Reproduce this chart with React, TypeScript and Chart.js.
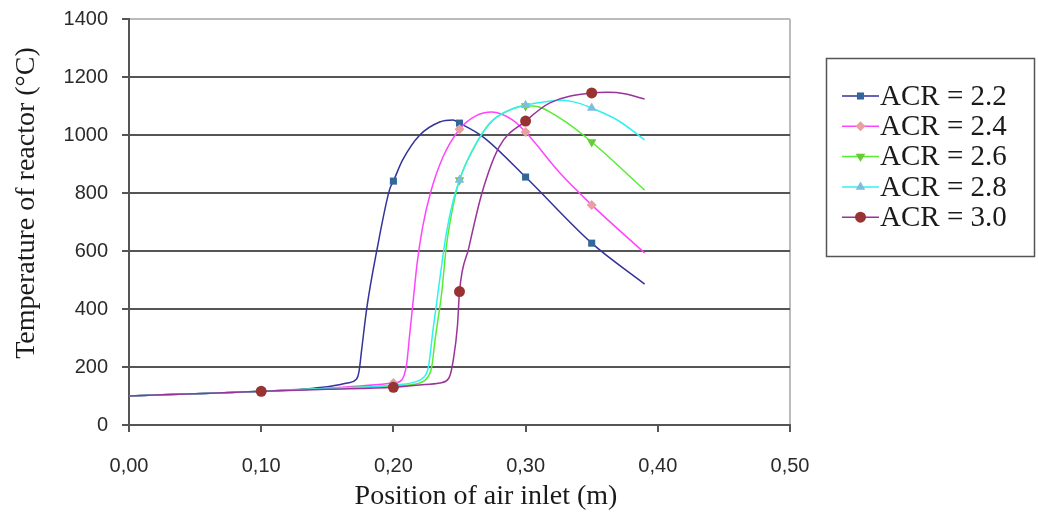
import React, { useEffect, useRef } from 'react';
import { Chart, registerables } from 'chart.js';

Chart.register(...registerables);

// ---- data ----
const seriesLabels = ['ACR = 2.2', 'ACR = 2.4', 'ACR = 2.6', 'ACR = 2.8', 'ACR = 3.0'];

const pos22 = [0, 0.05, 0.10, 0.15, 0.165, 0.172, 0.174, 0.176, 0.18, 0.1875, 0.197, 0.20, 0.207, 0.22, 0.235, 0.245, 0.25, 0.268, 0.30, 0.35, 0.39];
const temp22 = [100, 108, 116, 132, 145, 158, 185, 260, 407, 603, 810, 841, 914, 1000, 1045, 1052, 1041, 993, 855, 627, 486];

const pos24 = [0, 0.05, 0.10, 0.15, 0.20, 0.205, 0.208, 0.21, 0.2125, 0.215, 0.218, 0.222, 0.228, 0.2375, 0.25, 0.262, 0.2745, 0.29, 0.30, 0.326, 0.35, 0.39];
const temp24 = [100, 108, 116, 127, 145, 150, 170, 210, 320, 430, 560, 680, 800, 924, 1020, 1065, 1079, 1052, 1010, 869, 759, 593];

const pos26 = [0, 0.05, 0.10, 0.15, 0.20, 0.22, 0.226, 0.229, 0.2315, 0.2365, 0.24, 0.245, 0.25, 0.26, 0.273, 0.288, 0.30, 0.306, 0.326, 0.35, 0.39];
const temp26 = [100, 108, 116, 126, 135, 145, 165, 200, 293, 455, 614, 752, 845, 948, 1041, 1086, 1100, 1100, 1058, 976, 810];

const pos28 = [0, 0.05, 0.10, 0.15, 0.20, 0.22, 0.224, 0.2265, 0.23, 0.235, 0.24, 0.245, 0.25, 0.26, 0.275, 0.29, 0.30, 0.315, 0.328, 0.34, 0.35, 0.37, 0.39];
const temp28 = [100, 108, 116, 126, 138, 155, 170, 200, 330, 500, 660, 770, 845, 950, 1050, 1090, 1103, 1115, 1120, 1110, 1093, 1050, 983];

const pos30 = [0, 0.05, 0.10, 0.15, 0.20, 0.22, 0.235, 0.242, 0.2455, 0.2485, 0.25, 0.257, 0.267, 0.28, 0.30, 0.318, 0.35, 0.362, 0.375, 0.39];
const temp30 = [100, 108, 116, 123, 130, 138, 145, 162, 230, 345, 460, 610, 800, 959, 1048, 1110, 1145, 1147, 1142, 1124];

const markerPositions = [0.10, 0.20, 0.25, 0.30, 0.35];
const yTickValues = [0, 200, 400, 600, 800, 1000, 1200, 1400];
const yTickLabels = ['0', '200', '400', '600', '800', '1000', '1200', '1400'];
const xTickLabels = ['0,00', '0,10', '0,20', '0,30', '0,40', '0,50'];

const xTitle = 'Position of air inlet (m)';
const yTitle = 'Temperature of reactor (°C)';

// ---- styles ----
const lineColors = ['#333399', '#FF44FF', '#55EE33', '#33F0F0', '#993399'];
const markerColors = ['#336699', '#E8A0A0', '#66CC33', '#80BDDD', '#993333'];
const markerStyles = ['rect', 'rectRot', 'triangle', 'triangle', 'circle'];
const markerRotations = [0, 0, 180, 0, 0];
const markerRadii = [5, 5, 5.5, 5.5, 5.5];

const allPos = [pos22, pos24, pos26, pos28, pos30];
const allTemp = [temp22, temp24, temp26, temp28, temp30];

const isMarker = (x: number) => markerPositions.some((m) => Math.abs(m - x) < 1e-9);

function drawMarker(ctx: CanvasRenderingContext2D, i: number, x: number, y: number) {
  ctx.save();
  ctx.fillStyle = markerColors[i];
  ctx.beginPath();
  const r = markerRadii[i];
  if (i === 0) {
    const s = Math.SQRT1_2 * r;
    ctx.rect(x - s, y - s, 2 * s, 2 * s);
  } else if (i === 1) {
    ctx.moveTo(x, y - r);
    ctx.lineTo(x + r, y);
    ctx.lineTo(x, y + r);
    ctx.lineTo(x - r, y);
    ctx.closePath();
  } else if (i === 2 || i === 3) {
    const dir = i === 2 ? -1 : 1;
    ctx.moveTo(x, y - dir * r);
    ctx.lineTo(x + r * 0.866, y + dir * r * 0.5);
    ctx.lineTo(x - r * 0.866, y + dir * r * 0.5);
    ctx.closePath();
  } else {
    ctx.arc(x, y, r, 0, Math.PI * 2);
  }
  ctx.fill();
  ctx.restore();
}

const decorPlugin = {
  id: 'decor',
  afterDraw(chart: any) {
    const ctx: CanvasRenderingContext2D = chart.ctx;
    ctx.save();
    // axis titles
    ctx.fillStyle = '#1a1a1a';
    ctx.font = '28px "Liberation Serif", "Times New Roman", serif';
    ctx.textAlign = 'center';
    ctx.textBaseline = 'middle';
    ctx.fillText(xTitle, 486, 497);
    ctx.save();
    ctx.translate(27, 203);
    ctx.rotate(-Math.PI / 2);
    ctx.fillText(yTitle, 0, 0);
    ctx.restore();

    // legend
    const bx = 826, by = 58, bw = 208, bh = 198;
    ctx.strokeStyle = '#555';
    ctx.lineWidth = 1.5;
    ctx.strokeRect(bx + 0.5, by + 0.5, bw, bh);
    ctx.font = '29px "Liberation Serif", "Times New Roman", serif';
    ctx.textAlign = 'left';
    ctx.textBaseline = 'middle';
    seriesLabels.forEach((lab, i) => {
      const cy = 96 + i * 30.3;
      ctx.strokeStyle = lineColors[i];
      ctx.lineWidth = 1.5;
      ctx.beginPath();
      ctx.moveTo(842, cy);
      ctx.lineTo(879, cy);
      ctx.stroke();
      drawMarker(ctx, i, 860.5, cy);
      ctx.fillStyle = '#1a1a1a';
      ctx.fillText(lab, 880, cy + 1);
    });
    ctx.restore();
  },
};

export default function App() {
  const ref = useRef<HTMLCanvasElement>(null);

  useEffect(() => {
    if (!ref.current) return;
    const datasets = seriesLabels.map((label, i) => ({
      label,
      data: allPos[i].map((x, k) => ({ x, y: allTemp[i][k] })),
      borderColor: lineColors[i],
      backgroundColor: markerColors[i],
      borderWidth: 1.5,
      cubicInterpolationMode: 'monotone' as const,
      pointStyle: markerStyles[i] as any,
      rotation: markerRotations[i],
      pointBorderWidth: 0,
      pointBorderColor: markerColors[i],
      pointBackgroundColor: markerColors[i],
      pointRadius: (c: any) => (c.raw && isMarker(c.raw.x) ? markerRadii[i] : 0),
      order: seriesLabels.length - i,
      showLine: true,
    }));

    const chart = new Chart(ref.current, {
      type: 'scatter',
      data: { datasets },
      options: {
        responsive: false,
        animation: false,
        devicePixelRatio: 1,
        layout: { padding: { left: 0, right: 248, top: 19, bottom: 0 } },
        plugins: { legend: { display: false }, tooltip: { enabled: false } },
        scales: {
          x: {
            type: 'linear',
            min: 0,
            max: 0.5,
            afterFit: (s: any) => {
              s.height = 93;
              s.paddingLeft = 0;
              s.paddingRight = 0;
            },
            afterBuildTicks: (s: any) => {
              s.ticks = xTickLabels.map((_, k) => ({ value: k * 0.1 }));
            },
            ticks: {
              callback: (_v: any, idx: number) => xTickLabels[idx],
              font: { family: '"Liberation Sans", Arial, sans-serif', size: 20 },
              color: '#2a2a2a',
              padding: 22,
              maxRotation: 0,
              autoSkip: false,
            },
            grid: {
              drawOnChartArea: true,
              color: (c: any) => (c.tick && Math.abs(c.tick.value - 0.5) < 1e-9 ? '#bbbbbb' : 'rgba(0,0,0,0)'),
              tickColor: '#555',
              tickLength: 7,
              lineWidth: 2,
            },
            border: { color: '#555', width: 2 },
          },
          y: {
            type: 'linear',
            min: 0,
            max: 1400,
            afterFit: (s: any) => {
              s.width = 129;
              s.paddingTop = 0;
              s.paddingBottom = 0;
            },
            afterBuildTicks: (s: any) => {
              s.ticks = yTickValues.map((v) => ({ value: v }));
            },
            ticks: {
              callback: (_v: any, idx: number) => yTickLabels[idx],
              font: { family: '"Liberation Sans", Arial, sans-serif', size: 20 },
              color: '#2a2a2a',
              padding: 14,
            },
            grid: {
              color: (c: any) => (c.tick && c.tick.value === 1400 ? '#bbbbbb' : '#555555'),
              tickColor: '#555',
              tickLength: 7,
              lineWidth: 2,
            },
            border: { color: '#555', width: 2 },
          },
        },
      },
      plugins: [decorPlugin],
    });
    return () => chart.destroy();
  }, []);

  return (
    <div style={{ position: 'absolute', left: 0, top: 0, width: 1038, height: 518, background: '#fff' }}>
      <canvas ref={ref} width={1038} height={518} style={{ display: 'block', width: 1038, height: 518 }} />
    </div>
  );
}
